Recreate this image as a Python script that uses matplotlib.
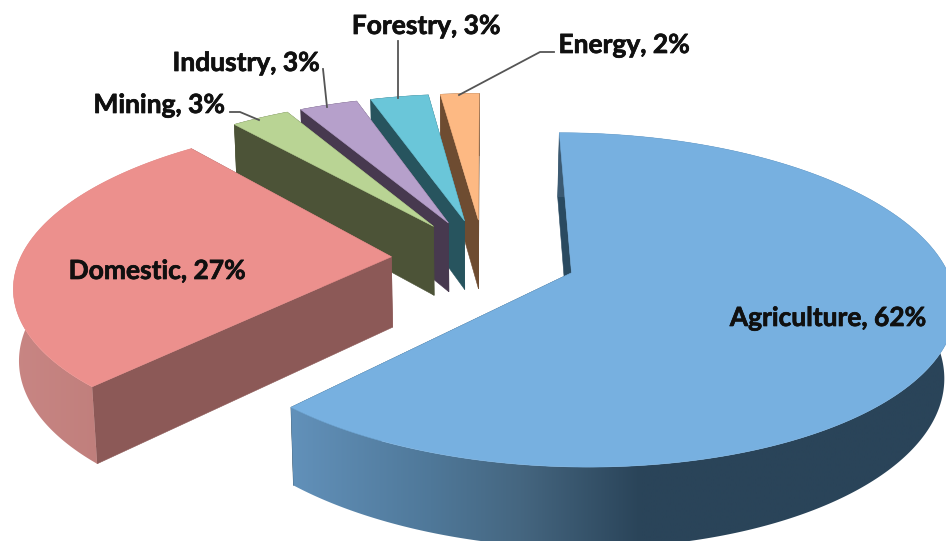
import matplotlib
matplotlib.use("Agg")
import matplotlib.pyplot as plt
import matplotlib.patheffects as pe
from matplotlib.patches import Polygon
from matplotlib.colors import to_rgb
import numpy as np

# shares of each sector, clockwise from twelve o'clock
sectors = ["Agriculture", "Domestic", "Mining", "Industry", "Forestry", "Energy"]
shares = [62, 27, 3, 3, 3, 2]
top_colors = ["#77B0E0", "#EC908D", "#B9D494", "#B6A0CB", "#6AC6D9", "#FDB983"]
face_colors = ["#2A4A60", "#8C5957", "#4C5337", "#47394F", "#27545E", "#6E4C31"]

# wall shading along the screen x axis
wall_stops = {
    "Agriculture": ([290, 430, 520, 640, 950], ["#6291BA", "#4F7899", "#456680", "#2A4459", "#2A4459"]),
    "Domestic": ([10, 100], ["#C98684", "#C07F7C"]),
}

# projection of the tilted pie
cx, cy = 484.0, 258.0
a, b = 371.0, 158.0
persp = 0.16
explode = 0.25
lean_left, lean_right = 6000.0, 3000.0


def project(u, v):
    w = 1 + persp * v
    return cx + a * u / w, cy - b * v / w


def drop(x, y):
    # top face point -> same point on the lower face
    d = 69 + 0.05 * (y - 227)
    lean = np.where(x < cx, lean_left, lean_right)
    return x + (cx - x) / lean * d, y + d


fig = plt.figure(figsize=(9.46, 5.41), dpi=100)
ax = fig.add_axes([0, 0, 1, 1])

edges = np.cumsum([0] + shares) / sum(shares) * 2 * np.pi

# right-hand slices go first, the ones on the left overlap them
order = [0, 5, 4, 3, 2, 1]
z = 1
for i in order:
    t0, t1 = edges[i], edges[i + 1]
    mid = (t0 + t1) / 2
    ou, ov = explode * np.sin(mid), explode * np.cos(mid)
    th = np.linspace(t0, t1, max(int(shares[i] * 8), 12))
    rx, ry = project(ou + np.sin(th), ov + np.cos(th))
    px, py = project(ou, ov)

    # cut faces
    for k in (0, -1):
        bx0, by0 = drop(rx[k], ry[k])
        bx1, by1 = drop(px, py)
        ax.add_patch(Polygon([(rx[k], ry[k]), (px, py), (bx1, by1), (bx0, by0)],
                             closed=True, fc=face_colors[i], ec=face_colors[i], lw=0.4, zorder=z))
        z += 1

    # outer wall
    bx, by = drop(rx, ry)
    outline = np.column_stack([np.r_[rx, bx[::-1]], np.r_[ry, by[::-1]]])
    if sectors[i] in wall_stops:
        xs, cols = wall_stops[sectors[i]]
        rgb = np.array([to_rgb(c) for c in cols])
        grid = np.linspace(outline[:, 0].min(), outline[:, 0].max(), 400)
        img = np.stack([np.interp(grid, xs, rgb[:, c]) for c in range(3)], axis=-1)[None, :, :]
        clip = Polygon(outline, closed=True, transform=ax.transData)
        im = ax.imshow(img, extent=(grid[0], grid[-1], outline[:, 1].max(), outline[:, 1].min()),
                       aspect="auto", interpolation="bilinear", zorder=z)
        im.set_clip_path(clip)
    else:
        ax.add_patch(Polygon(outline, closed=True, fc=face_colors[i], ec=face_colors[i], lw=0.4, zorder=z))
    z += 1

    # top of the slice
    ax.add_patch(Polygon(np.column_stack([np.r_[px, rx], np.r_[py, ry]]),
                         closed=True, fc=top_colors[i], ec=top_colors[i], lw=0.4, zorder=z))
    z += 1

ax.set_xlim(0, 946)
ax.set_ylim(541, 0)
ax.axis("off")

# leader lines
leaders = [
    ([230, 240, 259], [112, 112, 120]),
    ([323, 327], [69, 107]),
    ([398, 398], [41, 98]),
    ([554, 540, 459], [52, 52, 95]),
]
for xs, ys in leaders:
    ax.plot(xs, ys, color="#555555", lw=1.3, zorder=z)

label_pos = [(828, 318), (157, 271), (159, 105), (246, 63), (426, 26), (624, 45)]
for name, val, (x, y) in zip(sectors, shares, label_pos):
    t = ax.text(x, y, f"{name}, {val}%", ha="center", va="center", zorder=z + 1,
                fontsize=19, fontweight="bold", family="Lato", color="#101010")
    t.set_path_effects([pe.withStroke(linewidth=0.5, foreground="#101010")])

fig.savefig("out.png", dpi=100)
plt.close()
